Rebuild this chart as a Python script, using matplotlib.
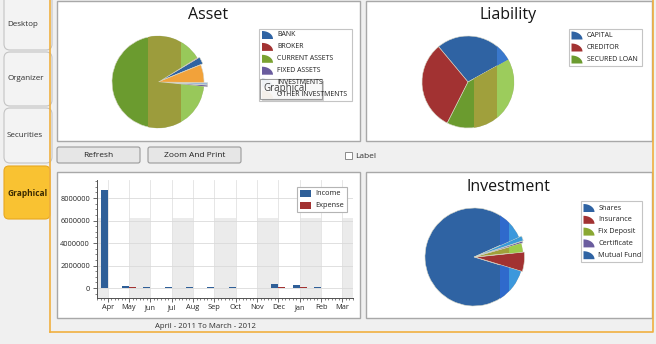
"""Finance dashboard screenshot: three pies and a monthly income/expense bar chart."""

import numpy as np
import matplotlib
matplotlib.use("Agg")
import matplotlib.pyplot as plt
from matplotlib.patches import Rectangle, FancyBboxPatch, Polygon
from matplotlib.ticker import MultipleLocator, AutoMinorLocator

plt.rcParams['font.family'] = ['Open Sans', 'DejaVu Sans']

W, H = 656, 344

# ---- data ----
tabs = ['Desktop', 'Organizer', 'Securities', 'Graphical']

asset_labels = ['BANK', 'BROKER', 'CURRENT ASSETS', 'FIXED ASSETS', 'INVESTMENTS', 'OTHER INVESTMENTS']
asset_values = [2.5, 0.3, 89.5, 0.6, 0.8, 6.3]
asset_colors = ['#2f63a3', '#a23232', '#6b9b2f', '#6a5c9e', '#9cb8d8', '#f2a23a']
asset_legend_colors = ['#2f63a3', '#a23232', '#7aa232', '#6a5c9e', '#9cb8d8', '#e8b070']

liab_labels = ['CAPITAL', 'CREDITOR', 'SECURED LOAN']
liab_values = [28.0, 31.5, 40.5]
liab_colors = ['#2f63a3', '#a23232', '#6b9b2f']

inv_labels = ['Shares', 'Insurance', 'Fix Deposit', 'Certificate', 'Mutual Fund']
inv_values = [88.6, 6.4, 2.8, 0.6, 1.6]
inv_colors = ['#2f63a3', '#a23232', '#a0a03a', '#6a5c9e', '#3a9ad8']
inv_legend_colors = ['#2f63a3', '#a23232', '#8aa832', '#6a5c9e', '#2f63a3']

months = ['Apr', 'May', 'Jun', 'Jul', 'Aug', 'Sep', 'Oct', 'Nov', 'Dec', 'Jan', 'Feb', 'Mar']
income = [8750000, 150000, 80000, 70000, 60000, 90000, 80000, 30000, 320000, 240000, 90000, 30000]
expense = [40000, 50000, 40000, 40000, 40000, 40000, 40000, 40000, 60000, 50000, 40000, 40000]
series_names = ['Income', 'Expense']
series_colors = ['#2f5f98', '#a23232']
period_text = 'April - 2011 To March - 2012'


def px_axes(fig, x0, y0, x1, y1):
    """Axes placed by pixel box (y measured from the top)."""
    return fig.add_axes([x0 / W, 1 - y1 / H, (x1 - x0) / W, (y1 - y0) / H])


def draw_pie(fig, cx, cy, r, values, colors, start, explode, shades):
    s = 62
    ax = px_axes(fig, cx - s, cy - s, cx + s, cy + s)
    wedges, _ = ax.pie(values, colors=colors, startangle=start, explode=explode,
                       wedgeprops=dict(edgecolor='#d8d8c8', linewidth=0.4))
    lim = s / r
    ax.set_xlim(-lim, lim)
    ax.set_ylim(-lim, lim)
    ax.axis('off')
    # vertical light bands of the 3D-ish renderer
    for idx, x0, x1, color in shades:
        band = Rectangle((x0, -2), x1 - x0, 4, fc=color, ec='none')
        ax.add_patch(band)
        band.set_clip_path(wedges[idx])
    return ax


def pie_legend(ax, box, labels, colors, y0, dy, icon_x, text_x, fs):
    x0, y_top, x1, y_bot = box
    ax.add_patch(Rectangle((x0, y_top), x1 - x0, y_bot - y_top, fc='white', ec='#c4c4c4', lw=0.8))
    t = np.linspace(0, np.pi / 2, 20)
    for i, (lab, col) in enumerate(zip(labels, colors)):
        yc = y0 + i * dy
        pts = [(icon_x, yc + 4)] + [(icon_x + 11 * np.cos(a), yc + 4 - 8 * np.sin(a)) for a in t]
        ax.add_patch(Polygon(pts, closed=True, fc=col, ec='none'))
        ax.text(text_x, yc, lab, fontsize=fs, va='center', ha='left', color='#202020')


fig = plt.figure(figsize=(W / 100, H / 100), dpi=100)
fig.patch.set_facecolor('#f0f0f0')

bg = fig.add_axes([0, 0, 1, 1])
bg.set_xlim(0, W)
bg.set_ylim(H, 0)
bg.axis('off')

# left tab strip
tab_boxes = [(-6, 50), (52, 106), (108, 163)]
for (ya, yb), name in zip(tab_boxes, tabs[:3]):
    bg.add_patch(FancyBboxPatch((4, ya), 48, yb - ya, boxstyle='round,pad=0,rounding_size=6',
                                fc='#f3f3f3', ec='#c4c4c4', lw=0.8))
    bg.text(7, (ya + yb) / 2 + 3 if ya < 0 else (ya + yb) / 2, name, fontsize=5.8,
            color='#303030', va='center', ha='left')
bg.plot([50, 50], [0, 332], color='#f0b040', lw=1.2)
bg.add_patch(FancyBboxPatch((4, 166), 46, 53, boxstyle='round,pad=0,rounding_size=5',
                            fc='#f9c232', ec='#e8a820', lw=0.8))
bg.text(7, 193, tabs[3], fontsize=6, fontweight='bold', color='#3a2a00', va='center', ha='left')
bg.plot([50, 653, 653], [332, 332, 0], color='#f0b040', lw=1.2)

# panels
for x0, y0, x1, y1 in [(57, 1, 360, 141), (366, 1, 652, 141), (57, 172, 360, 318), (366, 172, 652, 318)]:
    bg.add_patch(Rectangle((x0, y0), x1 - x0, y1 - y0, fc='white', ec='#a8a8a8', lw=1.0))

# buttons and checkbox
for x0, x1, lab in [(57, 140, 'Refresh'), (148, 241, 'Zoom And Print')]:
    bg.add_patch(FancyBboxPatch((x0, 147), x1 - x0, 16, boxstyle='round,pad=0,rounding_size=2',
                                fc='#e6e6e6', ec='#9a9a9a', lw=0.8))
    bg.text((x0 + x1) / 2, 155.5, lab, fontsize=6, color='#202020', ha='center', va='center')
bg.add_patch(Rectangle((345, 152), 7, 7, fc='white', ec='#8a8a8a', lw=0.7))
bg.text(355, 156, 'Label', fontsize=6, color='#303030', va='center', ha='left')

# titles
bg.text(208, 15, 'Asset', fontsize=11.5, ha='center', va='center', color='#151515')
bg.text(508, 15, 'Liability', fontsize=11.5, ha='center', va='center', color='#151515')
bg.text(508, 187, 'Investment', fontsize=11.5, ha='center', va='center', color='#151515')
bg.text(205, 327, period_text, fontsize=5.6, ha='center', va='center', color='#303030')

# pies
draw_pie(fig, 158, 82, 46, asset_values, asset_colors, 22,
         [0.05, 0, 0, 0.08, 0.08, 0],
         [(2, -0.22, 0.49, '#9c9c3c'), (2, 0.49, 2, '#98c85a')])
draw_pie(fig, 468, 82, 46, liab_values, liab_colors, 29,
         [0, 0, 0],
         [(0, 0.64, 2, '#3a78cc'), (2, 0.13, 0.64, '#a0a03c'), (2, 0.64, 2, '#9ccc5c')])
draw_pie(fig, 474, 257, 49, inv_values, inv_colors, 24,
         [0, 0.03, 0, 0.04, 0.06],
         [(0, 0.53, 0.72, '#2f6acc'), (0, 0.72, 2, '#3c98dc'), (2, 0.72, 2, '#9ccc4c')])

# bar chart
ax = px_axes(fig, 97, 180, 353, 297.5)
x = np.arange(len(months))
for i in range(-1, len(months), 2):
    ax.axvspan(max(i, -0.5), min(i + 1, 11.5), ymax=0.68, color='#ebebeb', zorder=0, lw=0)
ax.bar(x - 0.17, income, 0.33, color=series_colors[0], zorder=3)
ax.bar(x + 0.17, expense, 0.33, color=series_colors[1], zorder=3)
ax.set_xlim(-0.5, 11.5)
ax.set_ylim(-840000, 9600000)
ax.set_xticks(x)
ax.set_xticklabels(months)
ax.set_yticks([0, 2000000, 4000000, 6000000, 8000000])
ax.set_yticklabels(['0', '2000000', '4000000', '6000000', '8000000'])
ax.yaxis.set_minor_locator(MultipleLocator(500000))
ax.xaxis.set_minor_locator(AutoMinorLocator(6))
ax.grid(axis='y', color='#dadada', lw=0.6, zorder=1)
ax.grid(axis='x', color='#e2e2e2', lw=0.6, zorder=1)
ax.set_axisbelow(True)
for side in ['top', 'right']:
    ax.spines[side].set_visible(False)
for side in ['left', 'bottom']:
    ax.spines[side].set_color('#505050')
    ax.spines[side].set_linewidth(0.7)
ax.tick_params(axis='both', labelsize=5.3, colors='#505050', labelcolor='#252525',
               length=3, width=0.6, pad=2)
ax.tick_params(axis='both', which='minor', length=1.5, width=0.5, colors='#505050')

# overlay: legends and tooltip
ov = fig.add_axes([0, 0, 1, 1])
ov.set_xlim(0, W)
ov.set_ylim(H, 0)
ov.patch.set_alpha(0)
ov.axis('off')

pie_legend(ov, (259, 29, 352, 101), asset_labels, asset_legend_colors, 35, 11.9, 262, 277, 5)
pie_legend(ov, (569, 29, 642, 66), liab_labels, liab_colors, 35.5, 12, 571.5, 587, 5)
pie_legend(ov, (581, 201, 642, 262), inv_labels, inv_legend_colors, 208, 11.8, 583.5, 598.5, 5.2)

ov.add_patch(Rectangle((297, 187), 50, 25, fc='white', ec='#b4b4b4', lw=0.8))
for i, (name, col) in enumerate(zip(series_names, series_colors)):
    ov.add_patch(Rectangle((300, 189.5 + 12 * i), 11, 7.5, fc=col, ec='none'))
    ov.text(315, 193.5 + 12 * i, name, fontsize=5.3, va='center', ha='left', color='#202020')

# "Graphical" tooltip hovering over the asset legend
ov.add_patch(Rectangle((262, 81), 62, 20, fc='#808080', ec='none', alpha=0.35))
ov.add_patch(Rectangle((260, 79), 62, 20, fc='white', ec='#8c8c8c', lw=0.8, alpha=0.85))
ov.text(263, 89, 'Graphical', fontsize=7, va='center', ha='left', color='#404040')

fig.savefig('out.png', dpi=100, facecolor=fig.get_facecolor())
